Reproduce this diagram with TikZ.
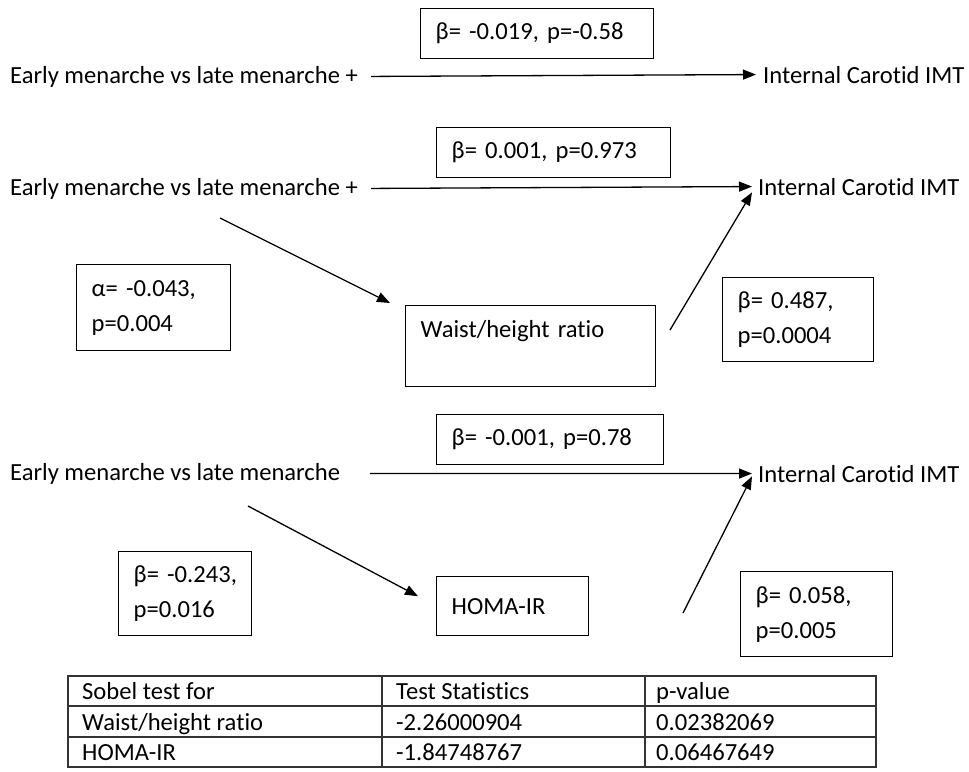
\documentclass[tikz,border=0pt]{standalone}
\usepackage{fontspec}
\setmainfont[Ligatures=NoCommon]{Carlito}
\usetikzlibrary{arrows.meta, positioning, calc}
\frenchspacing

\begin{document}
\begin{tikzpicture}[x=1pt, y=-1pt,
    every node/.style={font=\fontsize{24.6}{35}\selectfont},
    lbl/.style={anchor=base west, inner sep=0pt},
    coef/.style={draw, line width=1.4pt, anchor=north west, align=left, inner xsep=15pt, inner ysep=0pt},
    arr/.style={line width=1.3pt, -{Triangle[length=13pt, width=10pt]}}]
    \useasboundingbox (0,0) rectangle (969,771);

    % Total effect
    \node[coef, minimum width=233pt, minimum height=50pt, text width=203pt] (tot) at (420,8) {β= -0.019, p=-0.58};
    \node[lbl] (src1) at (10,83) {Early menarche vs late menarche +};
    \node[lbl] (dst1) at (763,83) {Internal Carotid IMT};
    \draw[arr] ([xshift=13pt]src1.east) -- ([xshift=-7pt]dst1.west);

    % Mediator: waist/height ratio
    \node[coef, minimum width=234pt, minimum height=50pt, text width=204pt] (dir1) at (436,127) {β= 0.001, p=0.973};
    \node[lbl] (src2) at (10,195) {Early menarche vs late menarche +};
    \node[lbl] (dst2) at (758,195) {Internal Carotid IMT};
    \node[coef, minimum width=154pt, minimum height=86pt, text width=124pt] (a1) at (76,264) {α= -0.043,\\p=0.004};
    \node[coef, minimum width=250pt, minimum height=81pt, text width=220pt] (wr) at (405,305) {Waist/height ratio\\\mbox{}};
    \node[coef, minimum width=151pt, minimum height=84pt, text width=121pt] (b1) at (722,277) {β= 0.487,\\p=0.0004};
    \coordinate (m1s) at (220,218);
    \coordinate (m1e) at (670,330);
    \draw[arr] ([xshift=13pt]src2.east) -- ([xshift=-6pt]dst2.west);
    \draw[arr] (m1s) -- ([shift={(-15,-2)}]wr.north west);
    \draw[arr] (m1e) -- ([shift={(-6,-3)}]dst2.south west);

    % Mediator: HOMA-IR
    \node[coef, minimum width=227pt, minimum height=50pt, text width=197pt] (dir2) at (436,414) {β= -0.001, p=0.78};
    \node[lbl] (src3) at (10,480) {Early menarche vs late menarche};
    \node[lbl] (dst3) at (758,482) {Internal Carotid IMT};
    \node[coef, minimum width=133pt, minimum height=84pt, text width=103pt] (a2) at (118,551) {\mbox{β= -0.243,}\\p=0.016};
    \node[coef, minimum width=152pt, minimum height=59pt, text width=122pt] (hom) at (436,576) {HOMA-IR};
    \node[coef, minimum width=152pt, minimum height=85pt, text width=122pt] (b2) at (740,571) {β= 0.058,\\p=0.005};
    \coordinate (m2s) at (248,506);
    \coordinate (m2e) at (683,613);
    \draw[arr] ([xshift=30pt]src3.east) -- ([xshift=-6pt]dst3.west);
    \draw[arr] (m2s) -- ([shift={(-18,-10)}]hom.west);
    \draw[arr] (m2e) -- ([shift={(-6,-6)}]dst3.south west);

    % Sobel table
    \draw[line width=1.2pt, black!80] (68,676) rectangle (876,767)
      (68,706) -- (876,706) (68,737) -- (876,737)
      (382,676) -- (382,767) (645,676) -- (645,767);
    \node[lbl] (h1) at (82,699) {Sobel test for};
    \node[lbl] (h2) at (396,699) {Test Statistics};
    \node[lbl] (h3) at (656,699) {p-value};
    \node[lbl] (r1a) at (82,730) {Waist/height ratio};
    \node[lbl] (r1b) at (396,730) {-2.26000904};
    \node[lbl] (r1c) at (656,730) {0.02382069};
    \node[lbl] (r2a) at (82,760) {HOMA-IR};
    \node[lbl] (r2b) at (396,760) {-1.84748767};
    \node[lbl] (r2c) at (656,760) {0.06467649};
\end{tikzpicture}
\end{document}
